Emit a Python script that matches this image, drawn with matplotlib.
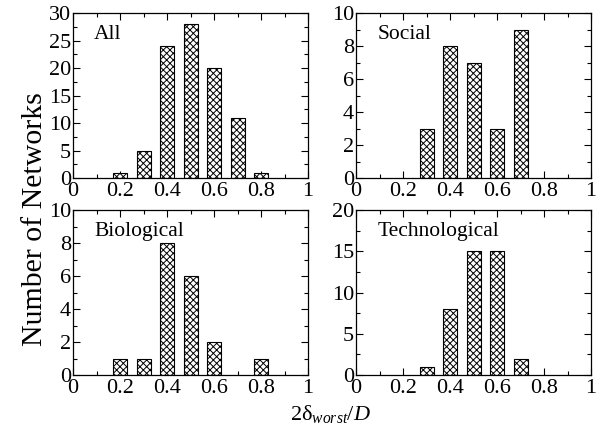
import numpy as np
import matplotlib.pyplot as plt
from matplotlib.ticker import MultipleLocator

plt.rcParams['font.family'] = 'Liberation Serif'
plt.rcParams['mathtext.fontset'] = 'custom'
plt.rcParams['mathtext.rm'] = 'Liberation Serif'
plt.rcParams['mathtext.it'] = 'Liberation Serif:italic'
plt.rcParams['hatch.linewidth'] = 0.7

# dados
bins = [0.1, 0.2, 0.3, 0.4, 0.5, 0.6, 0.7, 0.8, 0.9]
all_counts = [0, 1, 5, 24, 28, 20, 11, 1, 0]
social_counts = [0, 0, 3, 8, 7, 3, 9, 0, 0]
bio_counts = [0, 1, 1, 8, 6, 2, 0, 1, 0]
tech_counts = [0, 0, 1, 8, 15, 15, 2, 0, 0]

xticks = [0, 0.2, 0.4, 0.6, 0.8, 1]
xtick_labels = ['0', '0.2', '0.4', '0.6', '0.8', '1']

panels = [
    ("All", all_counts, 30, 5),
    ("Social", social_counts, 10, 2),
    ("Biological", bio_counts, 10, 2),
    ("Technological", tech_counts, 20, 5),
]

fig = plt.figure(figsize=(6.06, 4.38), dpi=100)

lefts = [0.1205, 0.5875]
bottoms = [0.5936, 0.1438]
w, h = 0.388, 0.3767

for i, (nome, counts, ymax, ystep) in enumerate(panels):
    ax = fig.add_axes([lefts[i % 2], bottoms[i // 2], w, h])
    x = np.array(bins)
    c = np.array(counts)
    mask = c > 0
    ax.bar(x[mask], c[mask], width=0.06, color='white', edgecolor='black',
           hatch='xxxxx', linewidth=0.8, zorder=2)
    ax.set_xlim(0, 1)
    ax.set_ylim(0, ymax)
    ax.set_xticks(xticks)
    ax.set_xticklabels(xtick_labels)
    ax.xaxis.set_minor_locator(MultipleLocator(0.1))
    ax.set_yticks(np.arange(0, ymax + 1, ystep))
    ax.yaxis.set_minor_locator(MultipleLocator(ystep / 2))
    ax.tick_params(which='both', direction='in', top=True, right=True,
                   labelsize=16, zorder=3)
    ax.tick_params(axis='x', pad=3)
    ax.tick_params(axis='y', pad=1.5)
    ax.tick_params(which='major', length=5, width=0.8)
    ax.tick_params(which='minor', length=3, width=0.8)
    for s in ax.spines.values():
        s.set_linewidth(0.9)
    ax.text(0.09, 0.87, nome, transform=ax.transAxes, fontsize=15.5,
            va='center', ha='left')

fig.text(0.058, 0.5, 'Number of Networks', rotation=90, fontsize=21.5,
         ha='center', va='center')
fig.text(0.545, 0.055, r'2δ$_{worst}$/$D$', fontsize=16, ha='center',
         va='center')

plt.savefig('out.png', dpi=100)
